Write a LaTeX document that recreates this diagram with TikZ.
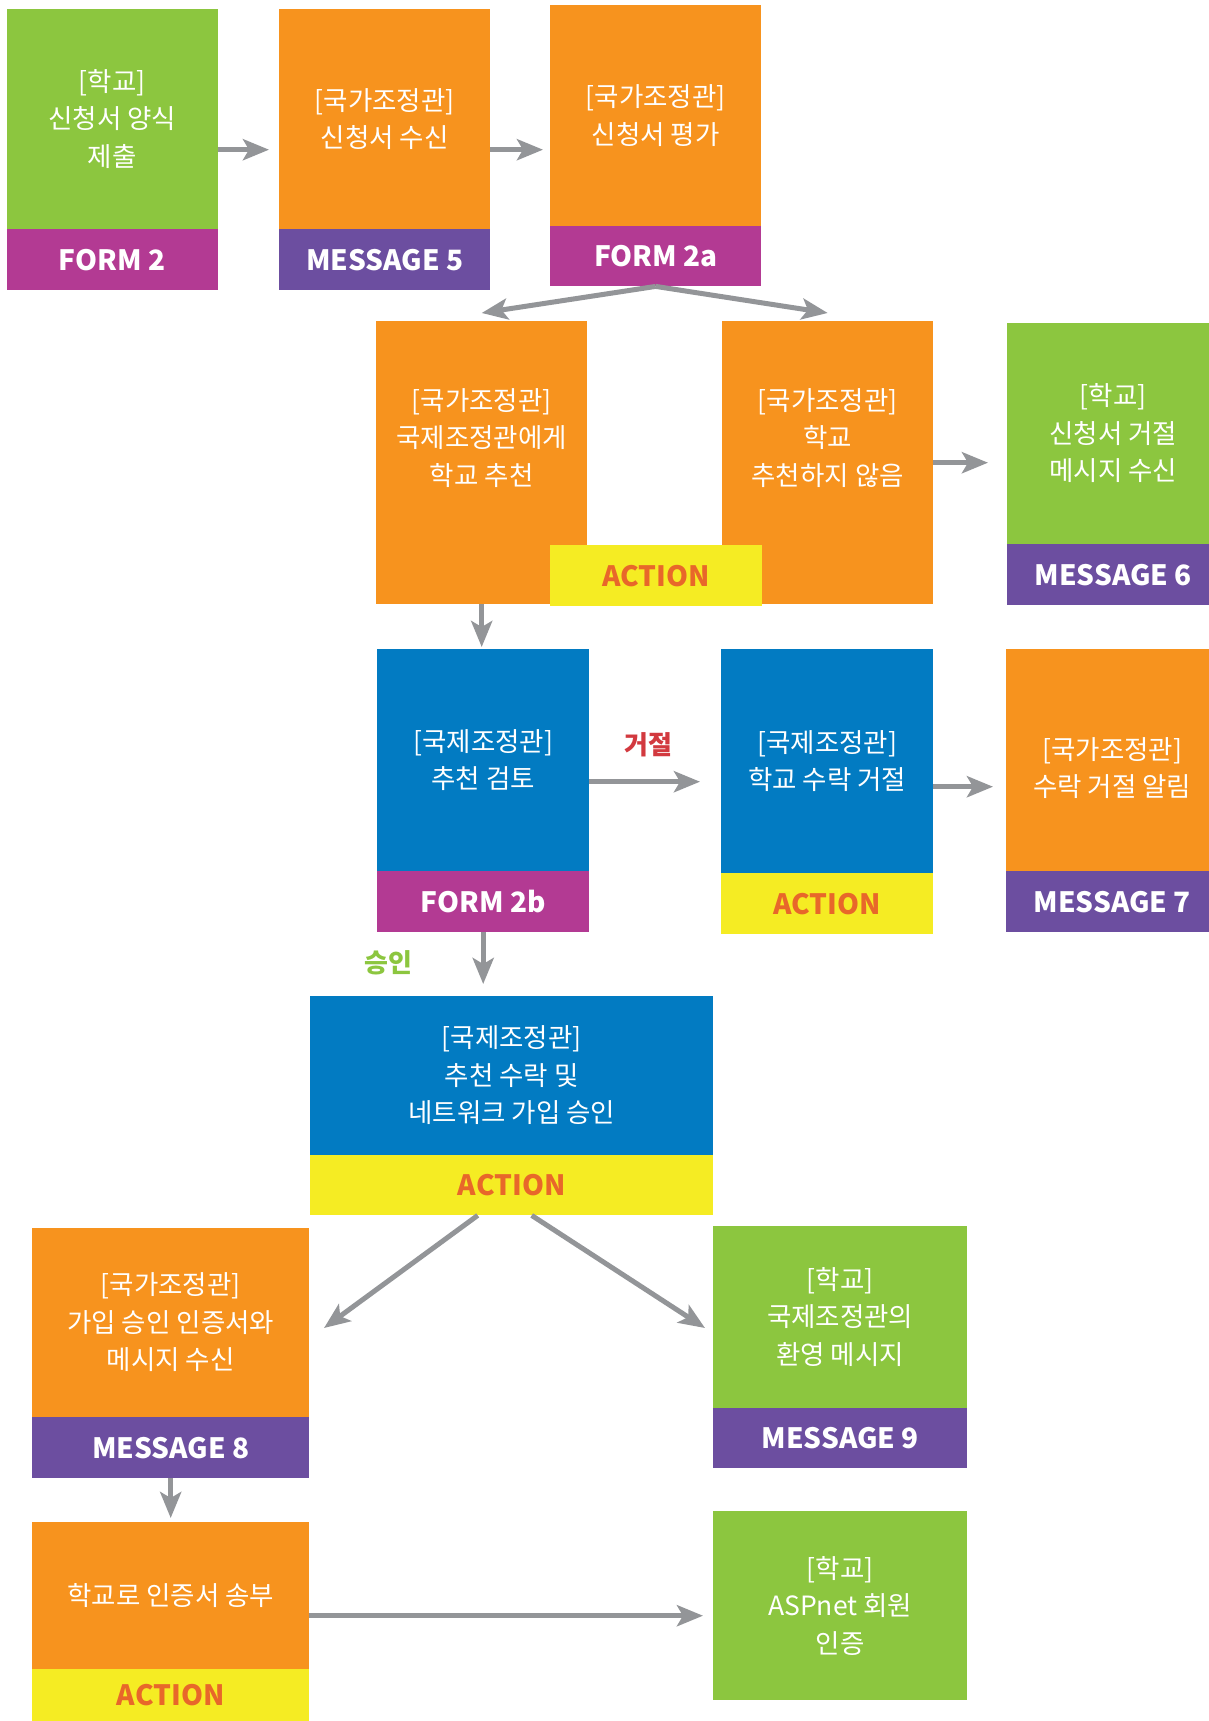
\documentclass[tikz,border=0pt]{standalone}
\usepackage{fontspec}
\setmainfont{Noto Sans CJK KR}
\usepackage{tikz}
\usetikzlibrary{positioning}
\usetikzlibrary{calc,arrows.meta}

\definecolor{grn}{HTML}{8CC63F}
\definecolor{org}{HTML}{F7931E}
\definecolor{mag}{HTML}{B33A93}
\definecolor{pur}{HTML}{6C4EA0}
\definecolor{blu}{HTML}{027BC2}
\definecolor{yel}{HTML}{F5EC23}
\definecolor{acttxt}{HTML}{E8672A}
\definecolor{arrgray}{HTML}{939598}
\definecolor{rejred}{HTML}{D2393F}

\tikzset{
	card/.style={anchor=north west, inner sep=0pt, minimum width=211pt, minimum height=281pt},
	tag/.style={anchor=south, inner sep=0pt, minimum height=61pt, minimum width=211pt,
		text=white, font=\fontsize{28pt}{28pt}\selectfont\bfseries},
	acttag/.style={tag, fill=yel, text=acttxt},
	txt/.style={align=center, text=white, font=\fontsize{26.5pt}{37.5pt}\selectfont},
	arr/.style={draw=arrgray, line width=5pt, -{Stealth[length=26pt,width=21pt,inset=6pt]}},
	word/.style={font=\fontsize{26pt}{26pt}\selectfont\bfseries},
}

\begin{document}
\begin{tikzpicture}[x=1pt, y=-1pt]
	
	\useasboundingbox (0,0) rectangle (1209,1721);
	\clip (0,0) rectangle (1209,1721);
	
	% the cards are placed by their top left corner, in pixels of the page
	
	% row 1
	\node (A) [card, fill=grn] at (6.5,9) {};
	\node (A2) [tag, fill=mag] at (A.south) {FORM 2};
	\node (A1) [txt] at ($(A.north)!0.5!(A2.north)$) {[학교]\\신청서 양식\\제출};
	
	\node (B) [card, fill=org] at (279,9) {};
	\node (B2) [tag, fill=pur] at (B.south) {MESSAGE 5};
	\node (B1) [txt] at ($(B.north)!0.5!(B2.north)$) {[국가조정관]\\신청서 수신};
	
	\node (C) [card, fill=org] at (550,5) {};
	\node (C2) [tag, fill=mag, minimum height=60pt] at (C.south) {FORM 2a};
	\node (C1) [txt] at ($(C.north)!0.5!(C2.north)$) {[국가조정관]\\신청서 평가};
	
	% row 2
	\node (D) [card, fill=org, minimum height=283pt] at (376,321) {};
	\node (D1) [txt] at ($(D.north)+(0,117)$) {[국가조정관]\\국제조정관에게\\학교 추천};
	
	\node (E) [card, fill=org, minimum height=283pt] at (722,321) {};
	\node (E1) [txt] at ($(E.north)+(0,117)$) {[국가조정관]\\학교\\추천하지 않음};
	
	\node (DE) [acttag, anchor=north west, minimum width=212pt] at (550,545) {ACTION};
	
	\node (F) [card, fill=grn, minimum width=212pt, minimum height=282pt] at (1007,323) {};
	\node (F2) [tag, fill=pur, minimum width=212pt] at (F.south) {MESSAGE 6};
	\node (F1) [txt] at ($(F.north)!0.5!(F2.north)$) {[학교]\\신청서 거절\\메시지 수신};
	
	% row 3
	\node (G) [card, fill=blu, minimum width=212pt, minimum height=283pt] at (377,649) {};
	\node (G2) [tag, fill=mag, minimum width=212pt] at (G.south) {FORM 2b};
	\node (G1) [txt] at ($(G.north)!0.5!(G2.north)$) {[국제조정관]\\추천 검토};
	
	\node (H) [card, fill=blu, minimum width=212pt, minimum height=285pt] at (721,649) {};
	\node (H2) [acttag, minimum width=212pt] at (H.south) {ACTION};
	\node (H1) [txt] at ($(H.north)!0.5!(H2.north)$) {[국제조정관]\\학교 수락 거절};
	
	\node (I) [card, fill=org, minimum width=212pt, minimum height=283pt] at (1006,649) {};
	\node (I2) [tag, fill=pur, minimum width=212pt] at (I.south) {MESSAGE 7};
	\node (I1) [txt] at ($(I.north)!0.5!(I2.north)+(0,8)$) {[국가조정관]\\수락 거절 알림};
	
	\node (rej) [word, text=rejred] at (648,745) {거절};
	\node (ok) [word, text=grn] at (388,963) {승인};
	
	% row 4
	\node (J) [card, fill=blu, minimum width=403pt, minimum height=219pt] at (310,996) {};
	\node (J2) [acttag, minimum width=403pt, minimum height=60pt] at (J.south) {ACTION};
	\node (J1) [txt] at ($(J.north)!0.5!(J2.north)$) {[국제조정관]\\추천 수락 및\\네트워크 가입 승인};
	
	\node (K) [card, fill=org, minimum width=277pt, minimum height=250pt] at (32,1228) {};
	\node (K2) [tag, fill=pur, minimum width=277pt] at (K.south) {MESSAGE 8};
	\node (K1) [txt] at ($(K.north)!0.5!(K2.north)$) {[국가조정관]\\가입 승인 인증서와\\메시지 수신};
	
	\node (L) [card, fill=grn, minimum width=254pt, minimum height=242pt] at (713,1226) {};
	\node (L2) [tag, fill=pur, minimum width=254pt, minimum height=60pt] at (L.south) {MESSAGE 9};
	\node (L1) [txt] at ($(L.north)!0.5!(L2.north)$) {[학교]\\국제조정관의\\환영 메시지};
	
	% row 5
	\node (M) [card, fill=org, minimum width=277pt, minimum height=199pt] at (32,1522) {};
	\node (M2) [acttag, minimum width=277pt, minimum height=52pt] at (M.south) {ACTION};
	\node (M1) [txt] at ($(M.north)!0.5!(M2.north)$) {학교로 인증서 송부};
	
	\node (N) [card, fill=grn, minimum width=254pt, minimum height=189pt] at (713,1511) {};
	\node (N1) [txt] at (N.center) {[학교]\\ASPnet 회원\\인증};
	
	% free ends of the slanted arrows
	\coordinate (Kin) at (324,1328);
	\coordinate (Lin) at (705,1328);
	
	%%%%%%%%%%%%%%%%%%%%%%%%%%%%%%%%%%%%%%%%%%%%%%%%%%%%%%%%%%%%%%
	\draw[arr, shorten >=10pt] (A.east) -- (A.east -| B.west);
	\draw[arr, shorten >=7pt] (B.east) -- (B.east -| C.west);
	\draw[arr] (C2.south) -- ([yshift=8pt]D.north);
	\draw[arr] (C2.south) -- ([yshift=8pt]E.north);
	\draw[arr, shorten >=19pt] (E.east) -- (E.east -| F.west);
	\draw[arr, shorten >=2pt] (D.south) -- (D.south |- G.north);
	\draw[arr, shorten >=21pt] ([yshift=9pt]G.east) -- ([yshift=9pt]G.east -| H.west);
	\draw[arr, shorten >=13pt] ([yshift=5pt]H.east) -- ([yshift=5pt]H.east -| I.west);
	\draw[arr, shorten >=12pt] (G2.south) -- (G2.south |- J.north);
	\draw[arr] ([xshift=-34pt]J2.south) -- (Kin);
	\draw[arr] ([xshift=20pt]J2.south) -- (Lin);
	\draw[arr, shorten >=4pt] (K2.south) -- (K2.south |- M.north);
	\draw[arr, shorten >=10pt] ([yshift=6pt]M.east) -- ([yshift=6pt]M.east -| N.west);
	
\end{tikzpicture}
\end{document}
